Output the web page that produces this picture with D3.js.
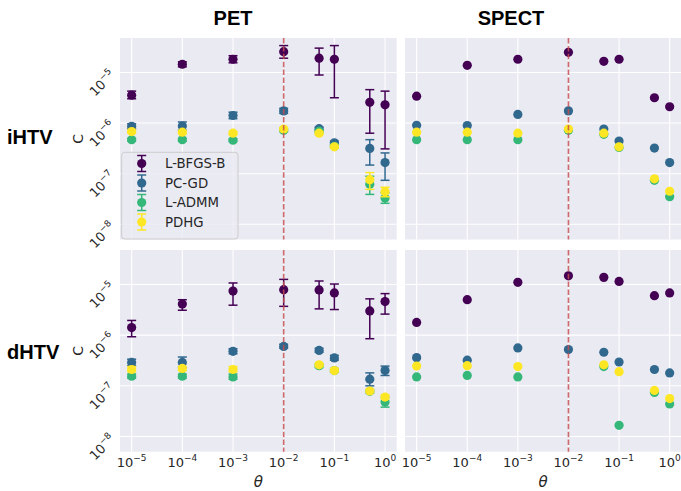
<!DOCTYPE html>
<html>
<head>
<meta charset="utf-8">
<script src="https://cdn.jsdelivr.net/npm/d3@7.9.0/dist/d3.min.js"></script>
<style>
  body { margin: 0; background: #fff; }
  svg { display: block; }
</style>
</head>
<body>
<script>
// theta values on the x axis
const thetas = [1e-5, 1e-4, 1e-3, 1e-2, 5e-2, 1e-1, 5e-1, 1];
const methods = ['L-BFGS-B', 'PC-GD', 'L-ADMM', 'PDHG'];
const colors = ['#440154', '#31688e', '#35b779', '#fde725'];
const colTitles = ['PET', 'SPECT'];
const rowTitles = ['iHTV', 'dHTV'];
const xTicks = [1e-5, 1e-4, 1e-3, 1e-2, 1e-1, 1e0];
const yTicks = [1e-8, 1e-7, 1e-6, 1e-5];
const refTheta = 1e-2;

// PET / iHTV  (rows = methods)
const petIHTV = [
  [3.55e-6, 1.45e-5, 1.82e-5, 2.57e-5, 1.91e-5, 1.82e-5, 2.57e-6, 2.29e-6],
  [8.6e-7, 8.7e-7, 1.41e-6, 1.74e-6, 7.76e-7, 4.07e-7, 3.16e-7, 1.66e-7],
  [4.68e-7, 4.68e-7, 4.57e-7, 7.2e-7, 6.9e-7, 3.47e-7, 6.2e-8, 3.3e-8],
  [6.8e-7, 6.6e-7, 6.3e-7, 7.6e-7, 6.3e-7, 3.4e-7, 7.6e-8, 4.4e-8]
];
const petIHTVLo = [
  [3.02e-6, 1.29e-5, 1.55e-5, 1.91e-5, 8.9e-6, 3.16e-6, 6.3e-7, 3.09e-7],
  [7.7e-7, 7.2e-7, 1.22e-6, 1.55e-6, 7.2e-7, 3.8e-7, 1.48e-7, 7.4e-8],
  [4.4e-7, 4.4e-7, 4.3e-7, 6.8e-7, 6.5e-7, 3.2e-7, 3.9e-8, 2.6e-8],
  [6.3e-7, 6.2e-7, 5.9e-7, 7.1e-7, 5.9e-7, 3.2e-7, 4.9e-8, 3.5e-8]
];
const petIHTVHi = [
  [4.27e-6, 1.62e-5, 2.14e-5, 3.39e-5, 3.02e-5, 3.39e-5, 4.57e-6, 4.27e-6],
  [9.7e-7, 1.05e-6, 1.64e-6, 1.95e-6, 8.3e-7, 4.4e-7, 4.7e-7, 2.57e-7],
  [5.0e-7, 5.0e-7, 4.9e-7, 7.8e-7, 7.4e-7, 3.7e-7, 8.9e-8, 4.2e-8],
  [7.2e-7, 7.1e-7, 6.8e-7, 8.1e-7, 6.8e-7, 3.6e-7, 1.05e-7, 5.4e-8]
];

// SPECT / iHTV
const spectIHTV = [
  [3.4e-6, 1.38e-5, 1.82e-5, 2.5e-5, 1.66e-5, 1.82e-5, 3.16e-6, 2.1e-6],
  [9.0e-7, 8.9e-7, 1.48e-6, 1.74e-6, 7.6e-7, 4.4e-7, 3.2e-7, 1.66e-7],
  [4.7e-7, 4.7e-7, 4.7e-7, 7.2e-7, 6.0e-7, 3.3e-7, 7.4e-8, 3.5e-8],
  [6.6e-7, 6.6e-7, 6.3e-7, 7.6e-7, 6.3e-7, 3.4e-7, 7.9e-8, 4.5e-8]
];

// PET / dHTV
const petDHTV = [
  [1.41e-6, 4.1e-6, 7.4e-6, 7.9e-6, 7.8e-6, 6.8e-6, 3.0e-6, 4.6e-6],
  [2.9e-7, 2.9e-7, 4.8e-7, 6.0e-7, 5.0e-7, 3.55e-7, 1.35e-7, 2.0e-7],
  [1.55e-7, 1.55e-7, 1.5e-7, null, 2.5e-7, 2.0e-7, 7.8e-8, 4.8e-8],
  [2.1e-7, 2.2e-7, 2.1e-7, null, 2.6e-7, 2.0e-7, 7.9e-8, 6.0e-8]
];
const petDHTVLo = [
  [9.3e-7, 3.1e-6, 3.9e-6, 3.7e-6, 3.3e-6, 3.2e-6, 8.5e-7, 2.6e-6],
  [2.5e-7, 2.3e-7, 4.3e-7, 5.5e-7, 4.6e-7, 3.2e-7, 1.0e-7, 1.6e-7],
  [1.41e-7, 1.41e-7, 1.35e-7, null, 2.3e-7, 1.85e-7, 7.2e-8, 3.8e-8],
  [1.9e-7, 2.0e-7, 1.9e-7, null, 2.4e-7, 1.9e-7, 7.4e-8, 5.5e-8]
];
const petDHTVHi = [
  [1.95e-6, 5.0e-6, 1.07e-5, 1.26e-5, 1.17e-5, 1.02e-5, 5.2e-6, 6.6e-6],
  [3.35e-7, 3.7e-7, 5.4e-7, 6.6e-7, 5.5e-7, 4.0e-7, 1.8e-7, 2.45e-7],
  [1.7e-7, 1.7e-7, 1.7e-7, null, 2.7e-7, 2.1e-7, 8.3e-8, 6.0e-8],
  [2.4e-7, 2.4e-7, 2.4e-7, null, 2.75e-7, 2.2e-7, 8.5e-8, 6.6e-8]
];

// SPECT / dHTV
const spectDHTV = [
  [1.78e-6, 5.0e-6, 1.1e-5, 1.48e-5, 1.38e-5, 1.15e-5, 6.0e-6, 6.8e-6],
  [3.6e-7, 3.2e-7, 5.6e-7, 5.2e-7, 4.6e-7, 2.95e-7, 2.1e-7, 1.8e-7],
  [1.5e-7, 1.6e-7, 1.5e-7, null, 2.4e-7, 1.66e-8, 7.4e-8, 4.4e-8],
  [2.45e-7, 2.5e-7, 2.4e-7, null, 2.6e-7, 1.9e-7, 8.1e-8, 5.6e-8]
];

const panels = [
  { r: 0, c: 0, mean: petIHTV, lo: petIHTVLo, hi: petIHTVHi },
  { r: 0, c: 1, mean: spectIHTV },
  { r: 1, c: 0, mean: petDHTV, lo: petDHTVLo, hi: petDHTVHi },
  { r: 1, c: 1, mean: spectDHTV }
];

const W = 681, H = 491;
const colBox = [{ x0: 120, x1: 396.7 }, { x0: 405, x1: 681.3 }];
const rowBox = [{ y0: 38, y1: 239.5 }, { y0: 250, y1: 451.7 }];
const textCol = '#262626';
const font = 'DejaVu Sans, sans-serif';

const svg = d3.select('body').append('svg')
  .attr('width', W).attr('height', H)
  .style('font-family', font);

// "10^k" labels with a superscript exponent
function powLabel(sel, v, big, small) {
  const e = Math.round(Math.log10(v));
  sel.append('tspan').attr('font-size', big).text('10');
  sel.append('tspan').attr('font-size', small).attr('dy', -big * 0.45)
    .text(e < 0 ? '\u2212' + (-e) : String(e));
}

panels.forEach((p) => {
  const cb = colBox[p.c], rb = rowBox[p.r];
  const x = d3.scaleLog().domain([10 ** -5.23, 10 ** 0.23]).range([cb.x0, cb.x1]);
  const y = d3.scaleLog().domain([10 ** -8.30, 10 ** -4.32]).range([rb.y1, rb.y0]);
  const g = svg.append('g');

  g.append('rect')
    .attr('x', cb.x0).attr('y', rb.y0)
    .attr('width', cb.x1 - cb.x0).attr('height', rb.y1 - rb.y0)
    .attr('fill', '#eaeaf2');

  g.selectAll('.gx').data(xTicks).join('line')
    .attr('x1', (d) => x(d)).attr('x2', (d) => x(d))
    .attr('y1', rb.y0).attr('y2', rb.y1)
    .attr('stroke', '#fff').attr('stroke-width', 1.1);
  g.selectAll('.gy').data(yTicks).join('line')
    .attr('class', 'gy')
    .attr('x1', cb.x0).attr('x2', cb.x1)
    .attr('y1', (d) => y(d)).attr('y2', (d) => y(d))
    .attr('stroke', '#fff').attr('stroke-width', 1.1);

  // one series after another: error bars then markers
  methods.forEach((m, k) => {
    const pts = thetas.map((t, i) => ({
      t, v: p.mean[k][i],
      lo: p.lo ? p.lo[k][i] : null,
      hi: p.hi ? p.hi[k][i] : null
    })).filter((d) => d.v != null);
    const s = g.append('g');
    const eb = pts.filter((d) => d.lo != null);
    s.selectAll('.eb').data(eb).join('line')
      .attr('x1', (d) => x(d.t)).attr('x2', (d) => x(d.t))
      .attr('y1', (d) => y(d.lo)).attr('y2', (d) => y(d.hi))
      .attr('stroke', colors[k]).attr('stroke-width', 1.5);
    ['lo', 'hi'].forEach((key) => {
      s.selectAll('.cap-' + key).data(eb).join('line')
        .attr('x1', (d) => x(d.t) - 4.5).attr('x2', (d) => x(d.t) + 4.5)
        .attr('y1', (d) => y(d[key])).attr('y2', (d) => y(d[key]))
        .attr('stroke', colors[k]).attr('stroke-width', 1.5);
    });
    s.selectAll('circle').data(pts).join('circle')
      .attr('cx', (d) => x(d.t)).attr('cy', (d) => y(d.v))
      .attr('r', 4.6).attr('fill', colors[k]);
  });

  // reference theta, drawn over the markers
  g.append('line')
    .attr('x1', x(refTheta)).attr('x2', x(refTheta))
    .attr('y1', rb.y0).attr('y2', rb.y1)
    .attr('stroke', '#c44e52').attr('stroke-opacity', 0.85).attr('stroke-width', 1.6)
    .attr('stroke-dasharray', '5.5,2.4');

  if (p.c === 0) {
    yTicks.forEach((t) => {
      const tx = svg.append('text')
        .attr('transform', `translate(116,${y(t) + 3.5}) rotate(-45)`)
        .attr('text-anchor', 'end').attr('fill', textCol);
      powLabel(tx, t, 13, 9);
    });
    svg.append('text')
      .attr('transform', `translate(83,${(rb.y0 + rb.y1) / 2}) rotate(-90)`)
      .attr('text-anchor', 'middle').attr('font-size', 14).attr('fill', textCol)
      .text('C');
    svg.append('text')
      .attr('x', 7).attr('y', p.r === 0 ? 144.3 : 358.5)
      .attr('font-family', 'Liberation Sans, Arial, sans-serif')
      .attr('font-weight', 'bold').attr('font-size', 20).attr('fill', '#000')
      .text(rowTitles[p.r]);
  }
  if (p.r === 1) {
    xTicks.forEach((t) => {
      const tx = svg.append('text')
        .attr('x', x(t)).attr('y', 467)
        .attr('text-anchor', 'middle').attr('fill', textCol);
      powLabel(tx, t, 13, 9);
    });
    svg.append('text')
      .attr('x', (cb.x0 + cb.x1) / 2).attr('y', 487)
      .attr('text-anchor', 'middle').attr('font-size', 15)
      .attr('font-style', 'italic').attr('fill', textCol)
      .text('\u03b8');
  }
});

// column titles
[233, 511].forEach((cx, i) => {
  svg.append('text')
    .attr('x', cx).attr('y', 25)
    .attr('text-anchor', 'middle')
    .attr('font-family', 'Liberation Sans, Arial, sans-serif')
    .attr('font-weight', 'bold').attr('font-size', 20).attr('fill', '#000')
    .text(colTitles[i]);
});

// legend in the top-left panel
const leg = svg.append('g');
leg.append('rect')
  .attr('x', 121.7).attr('y', 152.3).attr('width', 116.3).attr('height', 86.7)
  .attr('rx', 3).attr('fill', '#eaeaf2').attr('fill-opacity', 0.8)
  .attr('stroke', '#cccccc').attr('stroke-width', 1);
methods.forEach((m, k) => {
  const cy = 163.5 + k * 19.5;
  const e = leg.append('g');
  e.append('line').attr('x1', 141.7).attr('x2', 141.7)
    .attr('y1', cy - 8).attr('y2', cy + 8)
    .attr('stroke', colors[k]).attr('stroke-width', 1.5);
  [cy - 8, cy + 8].forEach((yy) => {
    e.append('line').attr('x1', 137.2).attr('x2', 146.2)
      .attr('y1', yy).attr('y2', yy)
      .attr('stroke', colors[k]).attr('stroke-width', 1.5);
  });
  e.append('circle').attr('cx', 141.7).attr('cy', cy).attr('r', 4.6).attr('fill', colors[k]);
  leg.append('text')
    .attr('x', 165).attr('y', cy + 4.7)
    .attr('font-size', 13.3).attr('fill', textCol)
    .text(m);
});
</script>
</body>
</html>
